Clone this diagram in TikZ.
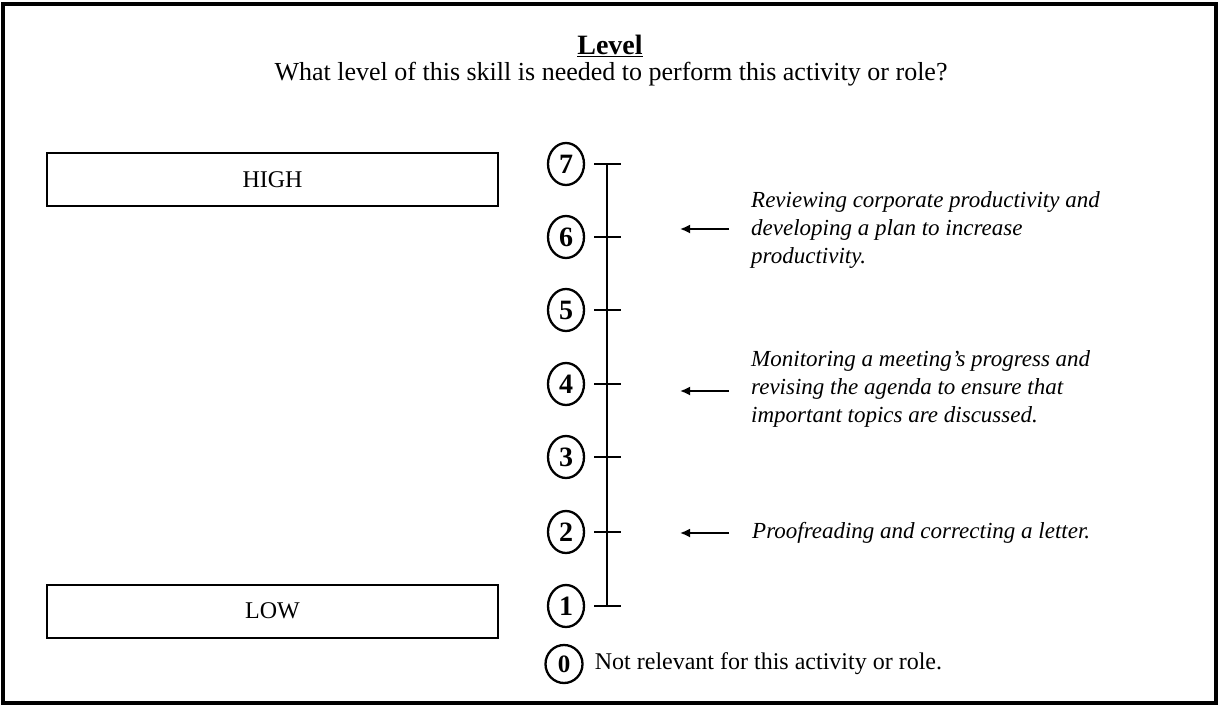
\documentclass[tikz,border=0pt]{standalone}
\usepackage{fontspec}
\setmainfont{Liberation Serif}
\usetikzlibrary{shapes.geometric,arrows.meta}
\tikzset{
  frame/.style={line width=3.2pt},
  levelbox/.style={draw, line width=2pt, minimum width=451pt, minimum height=53pt, inner sep=0pt, font=\fontsize{24}{28}\selectfont},
  num/.style={draw, ellipse, line width=2.3pt, minimum width=36pt, minimum height=42pt, inner sep=0pt, font=\fontsize{28}{28}\selectfont\bfseries},
  scaleline/.style={line width=2.7pt},
  pointer/.style={line width=1.8pt, -{Latex[length=10pt,width=9pt]}},
  example/.style={align=left, inner sep=0pt, anchor=west, font=\fontsize{23}{28}\selectfont\itshape},
  plain/.style={inner sep=0pt, font=\fontsize{24}{28}\selectfont}
}
\begin{document}
\begin{tikzpicture}[x=1pt,y=-1pt]
\useasboundingbox (0,0) rectangle (1220,706);
\draw[frame] (3,4) rectangle (1216,703);

\node[plain, font=\fontsize{28}{30}\selectfont\bfseries] (title) at (610,46) {\underline{Level}};
\node[plain, font=\fontsize{26}{30}\selectfont] (question) at (611,74) {What level of this skill is needed to perform this activity or role?};

\node[levelbox] (high) at (272.5,179.5) {HIGH};
\node[levelbox] (low) at (272.5,611) {LOW};

% scale
\foreach \n/\y in {7/164,6/237,5/310,4/384,3/457,2/532,1/606}{
  \node[num] (n\n) at (566,\y) {\n};
  \coordinate (t\n) at (607,\y);
  \draw[scaleline] ([xshift=-13pt]t\n) -- ([xshift=14pt]t\n);
}
\draw[scaleline] (t7) -- (t1);

\node[num, minimum width=37pt, minimum height=38pt, font=\fontsize{25}{28}\selectfont\bfseries] (n0) at (564,664) {0};
\node[plain, anchor=west] (zero) at ([xshift=11pt]n0.east) {Not relevant for this activity or role.};

% examples
\node[example] (ex6) at (751,230) {Reviewing corporate productivity and\\developing a plan to increase\\productivity.};
\node[example] (ex4) at (751,389) {Monitoring a meeting's progress and\\revising the agenda to ensure that\\important topics are discussed.};
\node[example] (ex2) at (752,533) {Proofreading and correcting a letter.};

\coordinate (a6) at (680,229);
\coordinate (a4) at (680,391);
\coordinate (a2) at (680,533);
\draw[pointer] ([xshift=-22pt]ex6.west |- a6) -- (a6);
\draw[pointer] ([xshift=-22pt]ex4.west |- a4) -- (a4);
\draw[pointer] ([xshift=-23pt]ex2.west |- a2) -- (a2);
\end{tikzpicture}
\end{document}
